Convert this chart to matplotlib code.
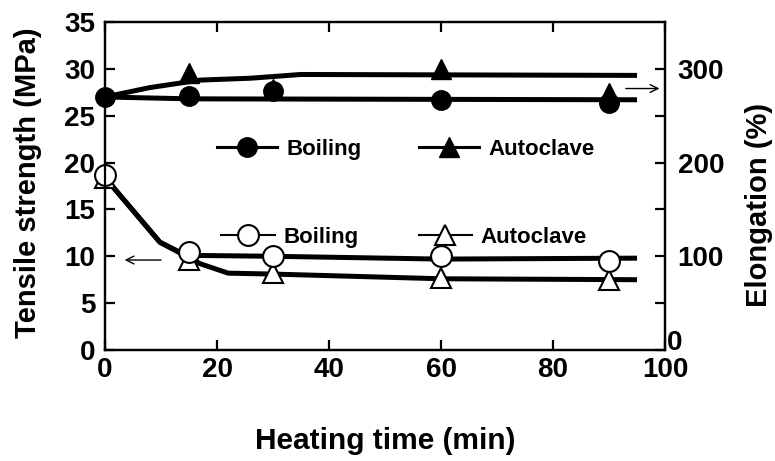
import matplotlib
matplotlib.use("Agg")
import matplotlib.pyplot as plt
from matplotlib.lines import Line2D

plt.rcParams['font.family'] = ['Liberation Sans', 'DejaVu Sans']
plt.rcParams['font.weight'] = 'bold'

# ---- data ----
time_pts = [0, 15, 30, 60, 90]
ts_boiling = [18.7, 10.5, 10.0, 10.0, 9.5]
ts_autoclave = [18.3, 9.6, 8.2, 7.7, 7.5]

el_boiling = [270, 271, 276, 267, 264]
el_auto_time = [15, 30, 60, 90]
el_autoclave = [296, 279, 300, 274]

# hand-drawn trend curves
ts_boil_curve_x = [0, 9.8, 14.5, 30, 60, 95]
ts_boil_curve_y = [18.4, 11.5, 10.1, 10.0, 9.7, 9.8]
ts_auto_curve_x = [0, 9.8, 14.5, 17, 22, 30, 60, 95]
ts_auto_curve_y = [18.4, 11.5, 10.0, 9.2, 8.2, 8.1, 7.6, 7.5]
el_boil_curve_x = [0, 15, 95]
el_boil_curve_y = [270, 268, 267]
el_auto_curve_x = [0, 8, 17, 26, 35, 95]
el_auto_curve_y = [270, 280, 288, 290, 294, 293]

x_ticks = [0, 20, 40, 60, 80, 100]
ts_ticks = [0, 5, 10, 15, 20, 25, 30, 35]
el_major = [100, 200, 300]
el_minor = [50, 150, 250]

fig = plt.figure(figsize=(7.75, 4.61), dpi=100)
ax = fig.add_axes([0.1355, 0.2408, 0.7226, 0.7115])
ax2 = ax.twinx()

lw_curve = 3.6
ax.plot(ts_boil_curve_x, ts_boil_curve_y, color='black', lw=lw_curve, solid_capstyle='butt', zorder=2)
ax.plot(ts_auto_curve_x, ts_auto_curve_y, color='black', lw=lw_curve, solid_capstyle='butt', zorder=2)
ax.plot(time_pts, ts_autoclave, ls='none', marker='^', ms=15, mfc='white', mec='black', mew=1.5, zorder=3, clip_on=False)
ax.plot(time_pts, ts_boiling, ls='none', marker='o', ms=15, mfc='white', mec='black', mew=1.5, zorder=4, clip_on=False)

ax2.plot(el_boil_curve_x, el_boil_curve_y, color='black', lw=lw_curve, solid_capstyle='butt', zorder=2)
ax2.plot(el_auto_curve_x, el_auto_curve_y, color='black', lw=lw_curve, solid_capstyle='butt', zorder=2)
ax2.plot(time_pts, el_boiling, ls='none', marker='o', ms=14, color='black', zorder=3, clip_on=False)
ax2.plot(el_auto_time, el_autoclave, ls='none', marker='^', ms=15, color='black', zorder=4, clip_on=False)

ax.set_xlim(0, 100)
ax.set_ylim(0, 35)
ax2.set_ylim(0, 350)

ax.set_xticks(x_ticks)
ax.set_yticks(ts_ticks)
ax2.set_yticks([0] + el_major)
ax2.set_yticklabels([''] + [str(v) for v in el_major])
ax2.set_yticks(el_minor, minor=True)

for a in (ax, ax2):
    for s in a.spines.values():
        s.set_linewidth(1.6)
ax.tick_params(axis='both', direction='in', length=7, width=1.6, labelsize=20, top=True)
ax.tick_params(axis='y', pad=7)
ax.tick_params(axis='x', pad=5)
ax2.tick_params(axis='y', which='both', direction='in', length=7, width=1.6, labelsize=20, pad=9)
ax2.annotate('0', xy=(1.0, 0), xycoords=('axes fraction', 'data'), xytext=(1.5, 5),
             textcoords='offset points', ha='left', va='center', fontsize=20, fontweight='bold')

ax.set_xlabel('Heating time (min)', fontsize=21.5, fontweight='bold')
ax.xaxis.set_label_coords(0.5, -0.235)
ax.set_ylabel('Tensile strength (MPa)', fontsize=21, fontweight='bold')
ax.yaxis.set_label_coords(-0.1125, 0.509)
ax2.set_ylabel('Elongation (%)', fontsize=21, fontweight='bold')
ax2.yaxis.set_label_coords(1.143, 0.442)

# arrows
ax.annotate('', xy=(3, 9.6), xytext=(10.5, 9.6),
            arrowprops=dict(arrowstyle='->', lw=1.0, color='black', mutation_scale=14))
ax2.annotate('', xy=(99.5, 279), xytext=(92.5, 279),
             arrowprops=dict(arrowstyle='->', lw=1.0, color='black', mutation_scale=14))

# legends
h_fb = Line2D([], [], color='black', lw=2.2, marker='o', ms=14)
h_fa = Line2D([], [], color='black', lw=2.2, marker='^', ms=15)
leg1 = ax2.legend([h_fb, h_fa], ['Boiling', 'Autoclave'], ncol=2, frameon=False,
                  loc='center left', bbox_to_anchor=(0.165, 0.612), fontsize=16,
                  handlelength=2.7, handletextpad=0.4, columnspacing=2.6)
ax2.add_artist(leg1)
h_ob = Line2D([], [], color='black', lw=1.5, marker='o', ms=15, mfc='white', mew=1.5)
h_oa = Line2D([], [], color='black', lw=1.5, marker='^', ms=15, mfc='white', mew=1.5)
ax2.legend([h_ob, h_oa], ['Boiling', 'Autoclave'], ncol=2, frameon=False,
           loc='center left', bbox_to_anchor=(0.172, 0.343), fontsize=16,
           handlelength=2.4, handletextpad=0.4, columnspacing=2.7)

fig.savefig('out.png', dpi=100)
